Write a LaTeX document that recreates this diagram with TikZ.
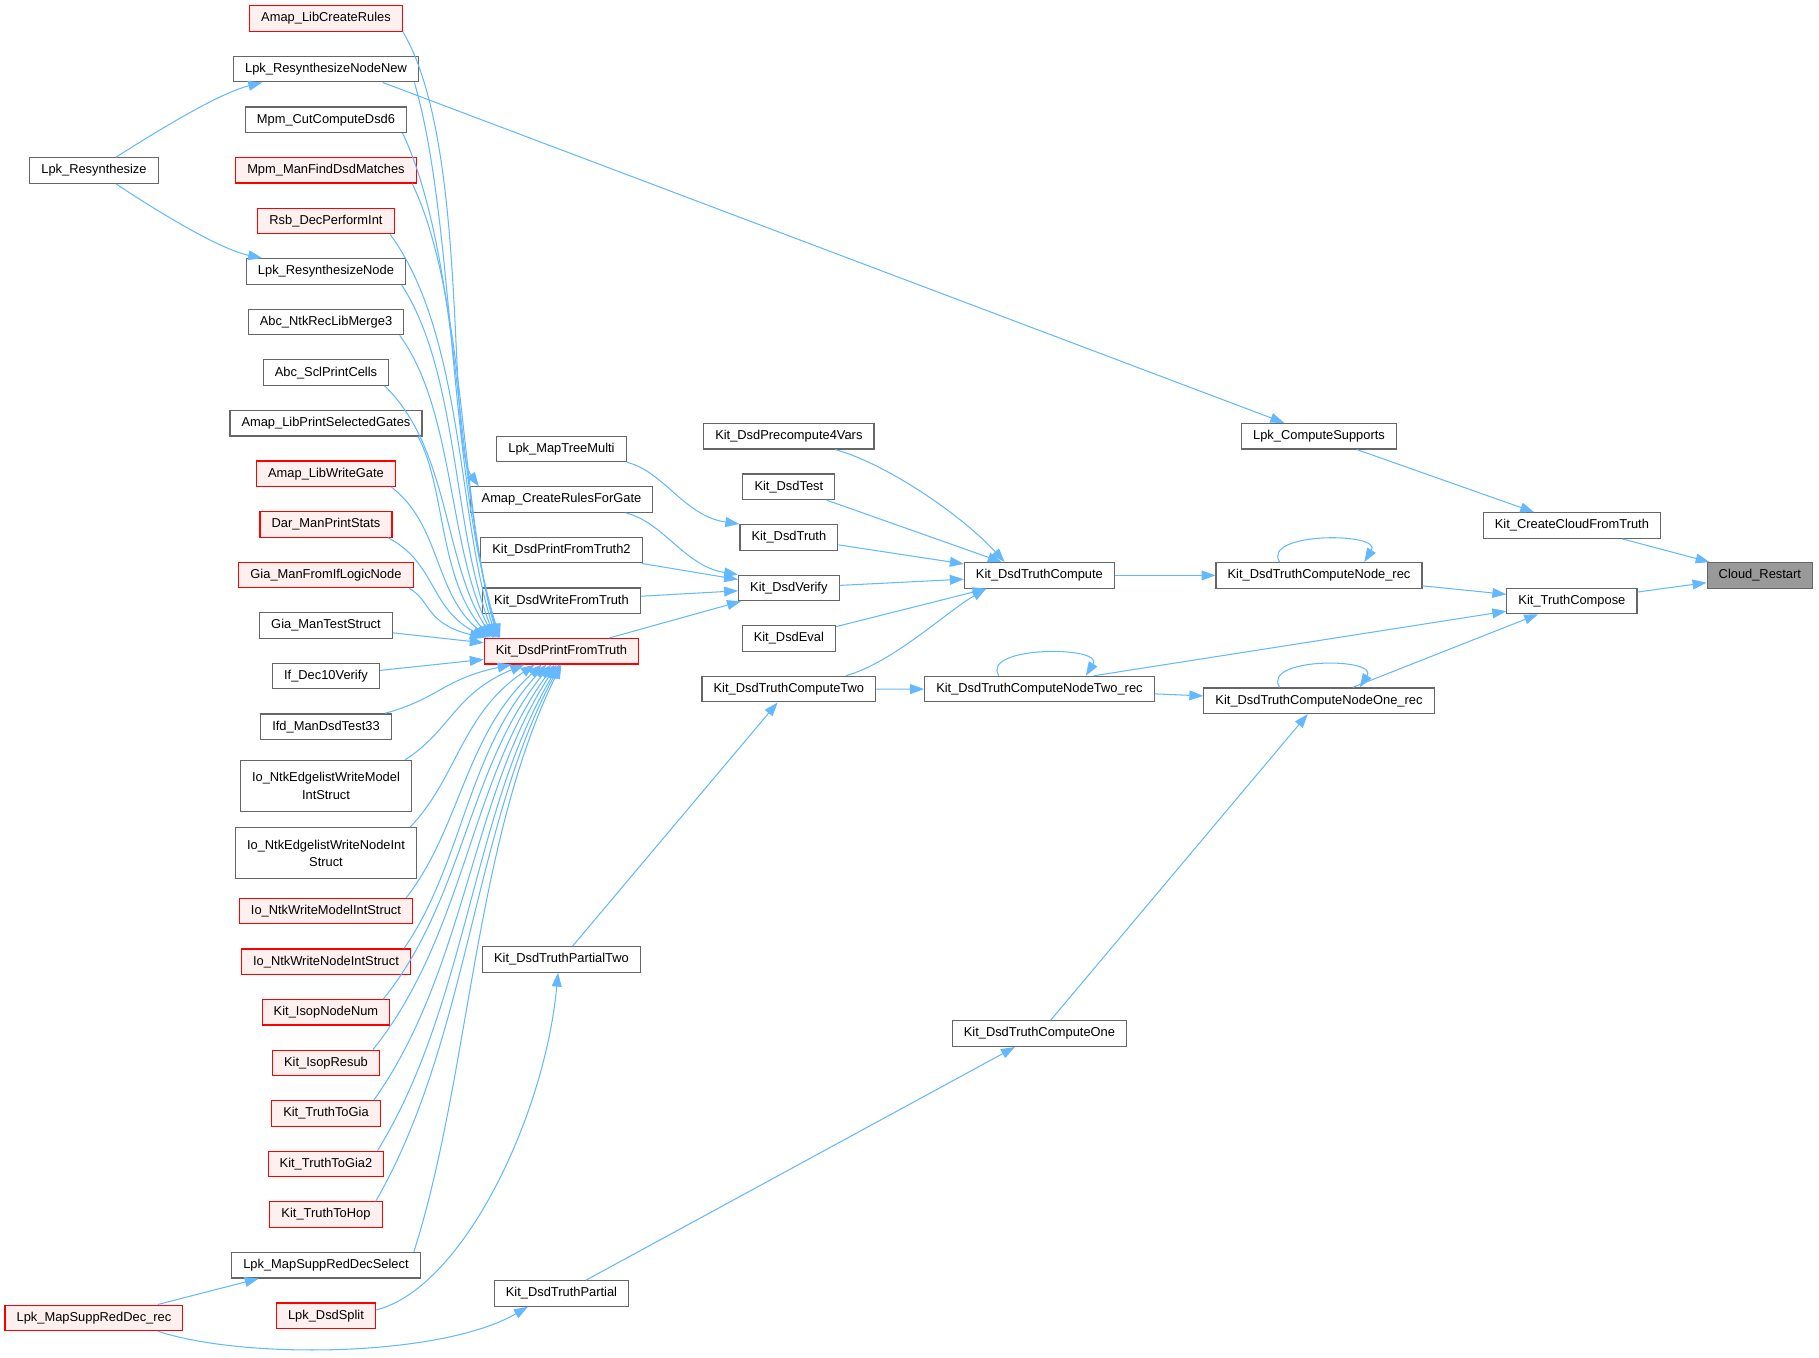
\documentclass[tikz,border=0pt]{standalone}
\usepackage{fontspec}
\setmainfont{Liberation Sans}
\usepackage{xcolor}
\usetikzlibrary{positioning}
\usetikzlibrary{arrows.meta}
\usetikzlibrary{calc}

\definecolor{edgeblue}{HTML}{63B8FF}
\definecolor{boxgray}{HTML}{666666}
\definecolor{boxred}{HTML}{FF0000}
\definecolor{boxpink}{HTML}{FFF0F0}
\definecolor{rootgray}{HTML}{999999}

\tikzset{
  fn/.style={draw=boxgray, fill=white, line width=1pt, inner xsep=10pt, inner ysep=0pt,
             minimum height=22pt, font=\fontsize{11.1}{15}\selectfont},
  hot/.style={fn, draw=boxred, fill=boxpink},
  root/.style={fn, fill=rootgray},
  tall/.style={minimum height=44pt, align=center},
  call/.style={draw=edgeblue, line width=0.9pt, -{Triangle[length=12pt,width=8.5pt]}}
}

\begin{document}
\begin{tikzpicture}[x=1pt,y=-1pt,node distance=43.6pt]
\useasboundingbox (0,0) rectangle (1568,1170);

% callers of Kit_DsdPrintFromTruth
\node[hot]  (alcr)               at (281,16) {Amap\_LibCreateRules};
\node[fn]   (lrnn)  [below of=alcr]  {Lpk\_ResynthesizeNodeNew};
\node[fn]   (mccd)  [below of=lrnn]  {Mpm\_CutComputeDsd6};
\node[hot]  (mmfd)  [below of=mccd]  {Mpm\_ManFindDsdMatches};
\node[hot]  (rdpi)  [below of=mmfd]  {Rsb\_DecPerformInt};
\node[fn]   (lrn)   [below of=rdpi]  {Lpk\_ResynthesizeNode};
\node[fn]   (anrl)  [below of=lrn]   {Abc\_NtkRecLibMerge3};
\node[fn]   (aspc)  [below of=anrl]  {Abc\_SclPrintCells};
\node[fn]   (alps)  [below of=aspc]  {Amap\_LibPrintSelectedGates};
\node[hot]  (alwg)  [below of=alps]  {Amap\_LibWriteGate};
\node[hot]  (dmps)  [below of=alwg]  {Dar\_ManPrintStats};
\node[hot]  (gmfl)  [below of=dmps]  {Gia\_ManFromIfLogicNode};
\node[fn]   (gmts)  [below of=gmfl]  {Gia\_ManTestStruct};
\node[fn]   (idv)   [below of=gmts]  {If\_Dec10Verify};
\node[fn]   (imdt)  [below of=idv]   {Ifd\_ManDsdTest33};
\node[fn,tall] (inem) [node distance=51pt, below of=imdt] {Io\_NtkEdgelistWriteModel\\IntStruct};
\node[fn,tall] (inen) [node distance=58pt, below of=inem] {Io\_NtkEdgelistWriteNodeInt\\Struct};
\node[hot]  (inwm)  [node distance=50pt, below of=inen] {Io\_NtkWriteModelIntStruct};
\node[hot]  (inwn)  [below of=inwm]  {Io\_NtkWriteNodeIntStruct};
\node[hot]  (kinn)  [below of=inwn]  {Kit\_IsopNodeNum};
\node[hot]  (kir)   [below of=kinn]  {Kit\_IsopResub};
\node[hot]  (kttg)  [below of=kir]   {Kit\_TruthToGia};
\node[hot]  (kttgb) [below of=kttg]  {Kit\_TruthToGia2};
\node[hot]  (ktth)  [below of=kttgb] {Kit\_TruthToHop};
\node[fn]   (lmss)  [below of=ktth]  {Lpk\_MapSuppRedDecSelect};
\node[hot]  (lds)   [below of=lmss]  {Lpk\_DsdSplit};

\node[fn]   (lres)  at (81,147)  {Lpk\_Resynthesize};
\node[hot]  (lmsr)  at (81,1136) {Lpk\_MapSuppRedDec\_rec};

% second column
\node[fn]   (lmtm)  at (484,387) {Lpk\_MapTreeMulti};
\node[fn]   (acrg)  [below of=lmtm]  {Amap\_CreateRulesForGate};
\node[fn]   (kdpt)  [below of=acrg]  {Kit\_DsdPrintFromTruth2};
\node[fn]   (kdwf)  [below of=kdpt]  {Kit\_DsdWriteFromTruth};
\node[hot]  (pft)   [below of=kdwf]  {Kit\_DsdPrintFromTruth};
\node[fn]   (tptwo) at (484,827)  {Kit\_DsdTruthPartialTwo};
\node[fn]   (tpart) at (484,1115) {Kit\_DsdTruthPartial};

% third column
\node[fn]   (pre4)  at (680,376) {Kit\_DsdPrecompute4Vars};
\node[fn]   (dtest) [below of=pre4]  {Kit\_DsdTest};
\node[fn]   (dtru)  [below of=dtest] {Kit\_DsdTruth};
\node[fn]   (dver)  [below of=dtru]  {Kit\_DsdVerify};
\node[fn]   (deval) [below of=dver]  {Kit\_DsdEval};
\node[fn]   (ctwo)  [below of=deval] {Kit\_DsdTruthComputeTwo};

% right part
\node[fn]   (tcomp) at (896,496)  {Kit\_DsdTruthCompute};
\node[fn]   (ntrec) at (896,594)  {Kit\_DsdTruthComputeNodeTwo\_rec};
\node[fn]   (cone)  at (896,891)  {Kit\_DsdTruthComputeOne};
\node[fn]   (lcs)   at (1137,376) {Lpk\_ComputeSupports};
\node[fn]   (ndrec) at (1137,496) {Kit\_DsdTruthComputeNode\_rec};
\node[fn]   (norec) at (1137,604) {Kit\_DsdTruthComputeNodeOne\_rec};
\node[fn]   (ccft)  at (1355,453) {Kit\_CreateCloudFromTruth};
\node[fn]   (tcmp)  at (1355,518) {Kit\_TruthCompose};
\node[root] (cloud) at (1517,496) {Cloud\_Restart};

\path (ccft)  edge[call] (cloud)
      (tcmp)  edge[call] (cloud)
      (lcs)   edge[call] (ccft)
      ([xshift=49pt]lrnn.south) edge[call] ([xshift=-30pt]lcs.north)
      (ndrec) edge[call] (tcmp)
      ([xshift=47pt]ntrec.north) edge[call] (tcmp)
      (norec) edge[call] (tcmp)
      (tcomp) edge[call] (ndrec)
      (ntrec) edge[call] (norec)
      (ctwo)  edge[call] (ntrec)
      (cone)  edge[call] (norec)
      (tpart) edge[call] (cone)
      (tptwo) edge[call] (ctwo)
      (dtest) edge[call] (tcomp)
      (dtru)  edge[call] (tcomp)
      (dver)  edge[call] (tcomp)
      (deval) edge[call] (tcomp)
      (kdpt)  edge[call] (dver)
      (kdwf)  edge[call] (dver)
      (pft)   edge[call] (dver)
      (gmts)  edge[call] (pft)
      (idv)   edge[call] (pft)
      ([xshift=55pt]lmsr.north) edge[call] ([xshift=-58pt]lmss.south);

% curved calls
\draw[call] ([xshift=49pt]ctwo.north) .. controls (770,571) and (815,528) .. ([xshift=-46pt]tcomp.south);
\draw[call] ([xshift=40pt]pre4.south) .. controls (765,400) and (830,445) .. ([xshift=-30pt]tcomp.north);
\draw[call] (lmtm.south east) .. controls (572,406) and (590,445) .. (dtru.north west);
\draw[call] ([xshift=-24pt]acrg.south east) .. controls (572,450) and (590,488) .. (dver.north west);
\draw[call] ([xshift=19pt]lres.north) .. controls (140,110) and (190,80) .. ([xshift=-55pt]lrnn.south);
\draw[call] ([xshift=19pt]lres.south) .. controls (140,185) and (190,215) .. ([xshift=-55pt]lrn.north);
\draw[call] ([xshift=55pt]lmsr.south) .. controls (210,1172) and (380,1170) .. ([xshift=-29pt]tpart.south);
\draw[call] ([yshift=5pt]lds.east) .. controls (400,1110) and (470,960) .. ([xshift=-3pt]tptwo.south);
\draw[call] (alcr.south east) .. controls (405,125) and (385,380) .. ([xshift=8pt]acrg.north west);

% bundle into Kit_DsdPrintFromTruth
\foreach \src/\bx/\ex in {lrnn/392/14, mccd/398/13, mmfd/402/12, rdpi/400/11, lrn/396/10,
                         anrl/392/9, aspc/388/8, alps/384/6, alwg/380/4, dmps/376/2, gmfl/372/0}
  \draw[call] let \p1=([xshift=-4pt]\src.south east), \p2=([xshift=\ex pt]pft.north west) in
    (\p1) .. controls ({\bx*1pt},{\y1+0.25*(\y2-\y1)}) and ({\bx*1pt-6pt},{\y2-0.3*(\y2-\y1)}) .. (\p2);
\foreach \src/\bx/\ex in {imdt/378/24, inem/388/35, inen/394/44, inwm/397/50, inwn/399/54, kinn/400/58,
                         kir/401/61, kttg/402/63, kttgb/403/65, ktth/404/66, lmss/405/67}
  \draw[call] let \p1=([xshift=-6pt]\src.north east), \p2=([xshift=\ex pt]pft.south west) in
    (\p1) .. controls ({\bx*1pt},{\y1+0.3*(\y2-\y1)}) and ({\bx*1pt+4pt},{\y2-0.3*(\y2-\y1)}) .. (\p2);

% recursive calls
\draw[call] ([xshift=-34pt]ndrec.north) .. controls ([xshift=-50pt,yshift=26pt]ndrec.north) and ([xshift=55pt,yshift=26pt]ndrec.north) .. ([xshift=39pt]ndrec.north);
\draw[call] ([xshift=-34pt]norec.north) .. controls ([xshift=-50pt,yshift=26pt]norec.north) and ([xshift=52pt,yshift=26pt]norec.north) .. ([xshift=35pt]norec.north);
\draw[call] ([xshift=-35pt]ntrec.north) .. controls ([xshift=-51pt,yshift=26pt]ntrec.north) and ([xshift=56pt,yshift=26pt]ntrec.north) .. ([xshift=40pt]ntrec.north);
\end{tikzpicture}
\end{document}
